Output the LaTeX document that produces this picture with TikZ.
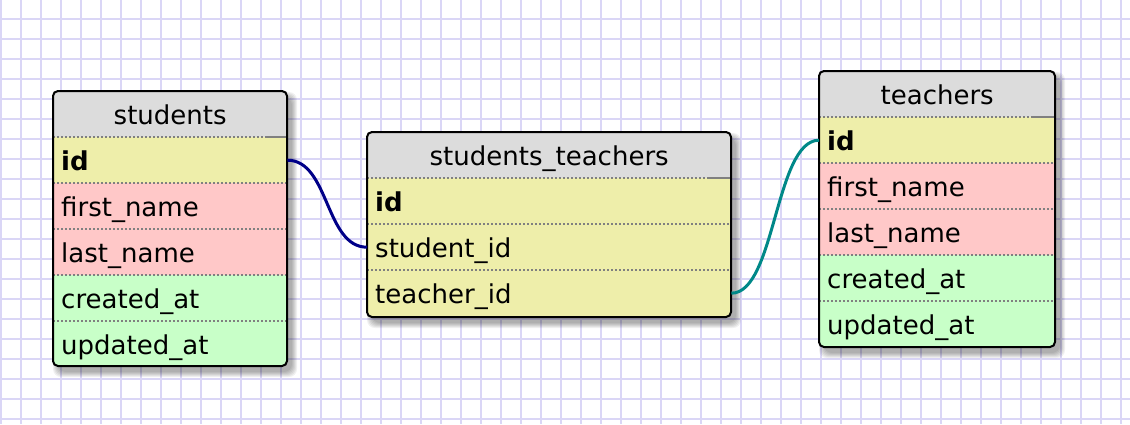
\documentclass[tikz,border=0pt]{standalone}
\usepackage{fontspec}
\newfontfamily\tbfont{DejaVu Sans}
\definecolor{gridc}{RGB}{218,214,246}
\definecolor{hdrgray}{RGB}{220,220,220}
\definecolor{keyyellow}{RGB}{238,238,170}
\definecolor{namepink}{RGB}{255,200,200}
\definecolor{dategreen}{RGB}{200,255,200}
\definecolor{sepgray}{RGB}{128,128,128}
\definecolor{navyline}{RGB}{0,0,136}
\definecolor{tealline}{RGB}{0,136,136}
\newcommand\tblshadow[4]{%
  \foreach \r in {0,...,5}{%
    \fill[black,opacity=0.06,rounded corners=8pt] ({#1+5-\r},{#2+6-\r}) rectangle ({#3+5+\r},{#4+6+\r});
  }%
}
\tikzset{
  gridline/.style={draw=gridc, line width=2pt},
  hdr/.style={fill=hdrgray, inner sep=0pt, minimum height=46pt, text height=20pt, text depth=0pt, anchor=north west, font={\tbfont\fontsize{26}{30}\selectfont}},
  fld/.style={inner xsep=8pt, inner ysep=0pt, minimum height=46pt, text height=20pt, text depth=0pt, anchor=north west, align=left, font={\tbfont\fontsize{26}{30}\selectfont}},
  pk/.style={fld, fill=keyyellow, font={\tbfont\bfseries\fontsize{26}{30}\selectfont}},
  nm/.style={fld, fill=namepink},
  dt/.style={fld, fill=dategreen},
  sep/.style={draw=sepgray, line width=1.5pt, dash pattern=on 2pt off 2pt},
  sepsolid/.style={draw=sepgray, line width=1.5pt},
  frame/.style={draw=black, line width=2pt, rounded corners=5pt},
  link/.style={line width=3pt},
}
\begin{document}
\begin{tikzpicture}[x=1pt,y=-1pt]
\useasboundingbox (0,0) rectangle (1130,424);
\fill[white] (0,0) rectangle (1130,424);
\foreach \gx in {1,21,...,1130} \draw[gridline] (\gx,0) -- (\gx,424);
\foreach \gy in {19,39,...,424} \draw[gridline] (0,\gy) -- (1130,\gy);

% ---------- students ----------
\tblshadow{53}{91}{287}{366}
\begin{scope}
\clip[rounded corners=5pt] (53,91) rectangle (287,366);
\node[hdr, minimum width=234pt] (s-h) at (53,91) {students};
\node[pk, text width=218pt] (s-id) at (53,137) {id};
\node[nm, text width=218pt] (s-fn) at (53,183) {first\_name};
\node[nm, text width=218pt] (s-ln) at (53,229) {last\_name};
\node[dt, text width=218pt] (s-ca) at (53,275) {created\_at};
\node[dt, text width=218pt] (s-ua) at (53,321) {updated\_at};
\end{scope}
\foreach \yy in {137,183,229,275,321} \draw[sep] (53,\yy) -- (287,\yy);
\draw[sepsolid] (266,137) -- (287,137);
\draw[frame] (53,91) rectangle (287,366);

% ---------- students_teachers ----------
\tblshadow{367}{132}{731}{317}
\begin{scope}
\clip[rounded corners=5pt] (367,132) rectangle (731,317);
\node[hdr, minimum width=364pt] (st-h) at (367,132) {students\_teachers};
\node[pk, text width=348pt] (st-id) at (367,178) {id};
\node[fld, fill=keyyellow, text width=348pt] (st-sid) at (367,224) {student\_id};
\node[fld, fill=keyyellow, text width=348pt] (st-tid) at (367,270) {teacher\_id};
\end{scope}
\foreach \yy in {178,224,270} \draw[sep] (367,\yy) -- (731,\yy);
\draw[sepsolid] (707,178) -- (731,178);
\draw[frame] (367,132) rectangle (731,317);

% ---------- teachers ----------
\tblshadow{819}{71}{1055}{347}
\begin{scope}
\clip[rounded corners=5pt] (819,71) rectangle (1055,347);
\node[hdr, minimum width=236pt] (t-h) at (819,71) {teachers};
\node[pk, text width=220pt] (t-id) at (819,117) {id};
\node[nm, text width=220pt] (t-fn) at (819,163) {first\_name};
\node[nm, text width=220pt] (t-ln) at (819,209) {last\_name};
\node[dt, text width=220pt] (t-ca) at (819,255) {created\_at};
\node[dt, text width=220pt] (t-ua) at (819,301) {updated\_at};
\end{scope}
\foreach \yy in {117,163,209,255,301} \draw[sep] (819,\yy) -- (1055,\yy);
\draw[sepsolid] (1032,117) -- (1055,117);
\draw[frame] (819,71) rectangle (1055,347);

% ---------- connectors ----------
\draw[link, navyline] (s-id.east) .. controls +(42,0) and +(-42,0) .. (st-sid.west);
\draw[link, tealline] (st-tid.east) .. controls +(44,0) and +(-44,0) .. (t-id.west);
\end{tikzpicture}
\end{document}
